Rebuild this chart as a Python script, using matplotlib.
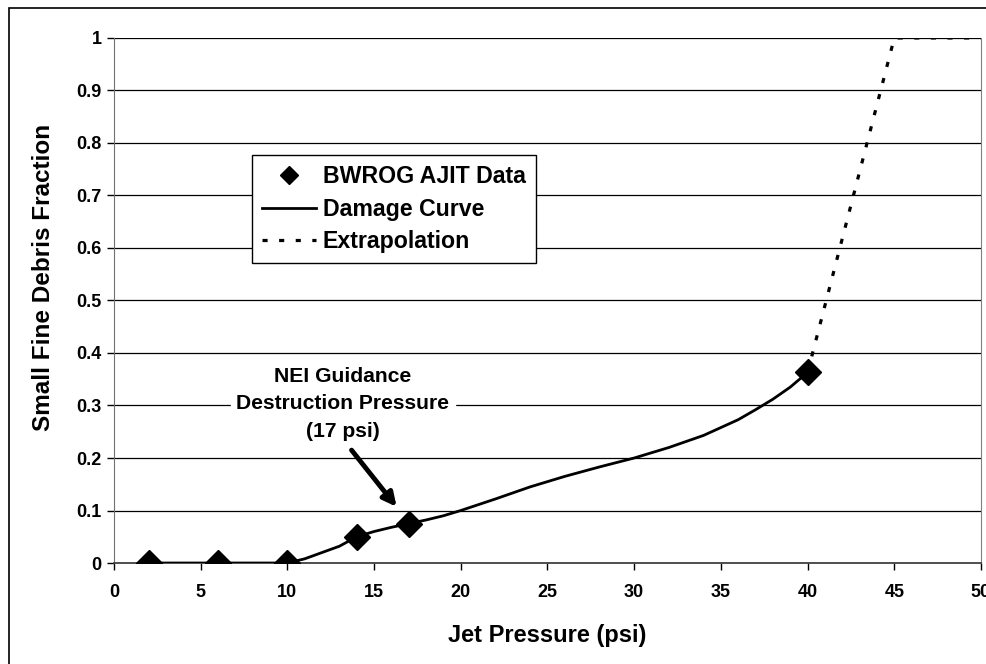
import matplotlib.pyplot as plt
from matplotlib.patches import Rectangle

# AJIT test points
data_x = [2, 6, 10, 14, 17, 40]
data_y = [0, 0, 0, 0.05, 0.075, 0.363]

# damage curve
curve_x = [2, 6, 10, 11, 12, 13, 14, 15, 16, 17, 18, 19, 20, 22, 24,
           25, 26, 28, 30, 32, 34, 35, 36, 37, 38, 39, 40]
curve_y = [0, 0, 0, 0.008, 0.02, 0.032, 0.05, 0.06, 0.068, 0.075, 0.082,
           0.09, 0.1, 0.122, 0.145, 0.155, 0.165, 0.183, 0.2, 0.22,
           0.243, 0.258, 0.273, 0.292, 0.312, 0.335, 0.363]

# extrapolation
extrap_x = [40, 45, 50]
extrap_y = [0.363, 1.0, 1.0]

x_ticks = [0, 5, 10, 15, 20, 25, 30, 35, 40, 45, 50]
y_ticks = [0, 0.1, 0.2, 0.3, 0.4, 0.5, 0.6, 0.7, 0.8, 0.9, 1]
y_labels = ['0', '0.1', '0.2', '0.3', '0.4', '0.5',
            '0.6', '0.7', '0.8', '0.9', '1']

plt.rcParams['font.family'] = ['Liberation Sans', 'DejaVu Sans']
plt.rcParams['font.weight'] = 'bold'

fig = plt.figure(figsize=(9.87, 6.64), dpi=100)

# outer frame
fig.patches.append(
    Rectangle((0.009, -0.02), 1.2, 1.008,
              transform=fig.transFigure,
              fill=False, edgecolor='black', linewidth=1.2)
)

ax = fig.add_axes([0.1155, 0.1521, 0.8784, 0.7907])

for y in y_ticks[1:]:
    ax.axhline(y, color='black', linewidth=0.9, zorder=1)

ax.plot(curve_x, curve_y, color='black', linewidth=2,
        label='Damage Curve', zorder=3)

ax.plot(extrap_x, extrap_y, color='black', linewidth=2.3,
        linestyle=(0, (1.6, 3.6)), label='Extrapolation', zorder=3)

ax.plot(data_x, data_y, linestyle='none', marker='D',
        markersize=13, color='black',
        label='BWROG AJIT Data', zorder=4)

ax.set_xlim(0, 50)
ax.set_ylim(0, 1)

ax.set_xticks(x_ticks)
ax.set_yticks(y_ticks)
ax.set_yticklabels(y_labels)

ax.tick_params(axis='both', direction='out', length=5, width=1,
               labelsize=13, pad=4)
ax.tick_params(axis='x', pad=10)

ax.spines['top'].set_visible(False)
ax.spines['left'].set_color('#707070')
ax.spines['right'].set_color('#808080')
ax.spines['bottom'].set_color('#404040')
ax.spines['bottom'].set_linewidth(1.3)

ax.set_xlabel('Jet Pressure (psi)', fontsize=17,
              fontweight='bold', labelpad=17)
ax.set_ylabel('Small Fine Debris Fraction', fontsize=17.5,
              fontweight='bold')
ax.yaxis.set_label_coords(-0.068, 0.543)

# legend in the original order
handles, labels = ax.get_legend_handles_labels()
order = [2, 0, 1]
leg = ax.legend(
    [handles[i] for i in order],
    [labels[i] for i in order],
    loc='upper left',
    bbox_to_anchor=(0.159, 0.777),
    borderaxespad=0,
    fontsize=16.7,
    frameon=True,
    fancybox=False,
    edgecolor='black',
    framealpha=1,
    markerscale=0.68,
    handlelength=2.3,
    handletextpad=0.3,
    borderpad=0.45,
    labelspacing=0.4
)
leg.get_frame().set_linewidth(1)

# NEI guidance note
ax.text(
    13.2, 0.303,
    'NEI Guidance\nDestruction Pressure\n(17 psi)',
    ha='center', va='center',
    fontsize=15.2, fontweight='bold',
    linespacing=1.55,
    backgroundcolor='white',
    zorder=5
)

ax.annotate(
    '',
    xy=(16.3, 0.107),
    xytext=(13.7, 0.215),
    arrowprops=dict(arrowstyle='-|>', color='black',
                    lw=3.5, mutation_scale=20,
                    shrinkA=0, shrinkB=0),
    zorder=5
)

plt.savefig('out.png', dpi=100)
